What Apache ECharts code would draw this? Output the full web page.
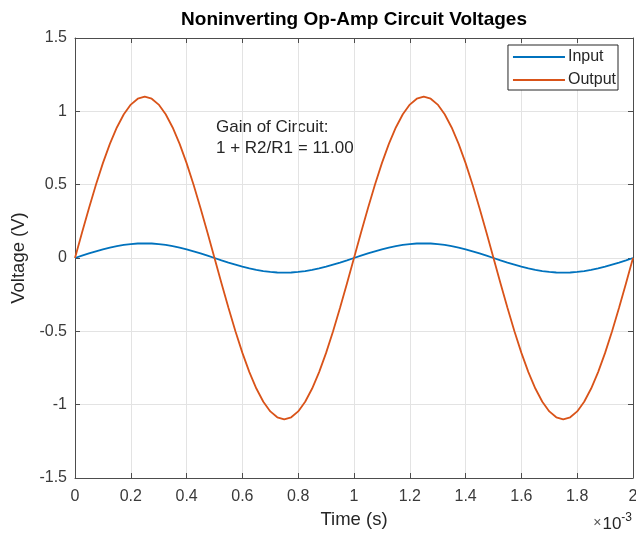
<!DOCTYPE html>
<html>
<head>
<meta charset="utf-8">
<script src="https://cdn.jsdelivr.net/npm/echarts@6/dist/echarts.min.js"></script>
<style>html,body{margin:0;padding:0;background:#fff}#c{width:636px;height:534px}</style>
</head>
<body>
<div id="c"></div>
<script>
// time in ms (axis shows ×10^-3 s)
const timeMs = [0,0.025,0.05,0.075,0.1,0.125,0.15,0.175,0.2,0.225,0.25,0.275,0.3,0.325,0.35,0.375,0.4,0.425,0.45,0.475,0.5,0.525,0.55,0.575,0.6,0.625,0.65,0.675,0.7,0.725,0.75,0.775,0.8,0.825,0.85,0.875,0.9,0.925,0.95,0.975,1.0,1.025,1.05,1.075,1.1,1.125,1.15,1.175,1.2,1.225,1.25,1.275,1.3,1.325,1.35,1.375,1.4,1.425,1.45,1.475,1.5,1.525,1.55,1.575,1.6,1.625,1.65,1.675,1.7,1.725,1.75,1.775,1.8,1.825,1.85,1.875,1.9,1.925,1.95,1.975,2.0];
const inputV = [0,0.016,0.031,0.045,0.059,0.071,0.081,0.089,0.095,0.099,0.100,0.099,0.095,0.089,0.081,0.071,0.059,0.045,0.031,0.016,0,-0.016,-0.031,-0.045,-0.059,-0.071,-0.081,-0.089,-0.095,-0.099,-0.100,-0.099,-0.095,-0.089,-0.081,-0.071,-0.059,-0.045,-0.031,-0.016,0,0.016,0.031,0.045,0.059,0.071,0.081,0.089,0.095,0.099,0.100,0.099,0.095,0.089,0.081,0.071,0.059,0.045,0.031,0.016,0,-0.016,-0.031,-0.045,-0.059,-0.071,-0.081,-0.089,-0.095,-0.099,-0.100,-0.099,-0.095,-0.089,-0.081,-0.071,-0.059,-0.045,-0.031,-0.016,0];
const outputV = [0,0.172,0.340,0.499,0.647,0.778,0.890,0.980,1.046,1.086,1.100,1.086,1.046,0.980,0.890,0.778,0.647,0.499,0.340,0.172,0,-0.172,-0.340,-0.499,-0.647,-0.778,-0.890,-0.980,-1.046,-1.086,-1.100,-1.086,-1.046,-0.980,-0.890,-0.778,-0.647,-0.499,-0.340,-0.172,0,0.172,0.340,0.499,0.647,0.778,0.890,0.980,1.046,1.086,1.100,1.086,1.046,0.980,0.890,0.778,0.647,0.499,0.340,0.172,0,-0.172,-0.340,-0.499,-0.647,-0.778,-0.890,-0.980,-1.046,-1.086,-1.100,-1.086,-1.046,-0.980,-0.890,-0.778,-0.647,-0.499,-0.340,-0.172,0];
const seriesNames = ['Input', 'Output'];
const titleText = 'Noninverting Op-Amp Circuit Voltages';
const xName = 'Time (s)';
const yName = 'Voltage (V)';
const noteLines = ['Gain of Circuit:', '1 + R2/R1 = 11.00'];

const FONT = '"Liberation Sans", Arial, Helvetica, sans-serif';
const AX = '#4d4d4d';
const TXT = '#262626';
const TICK = '#3a3a3a';
const GRID = '#e3e3e3';

function pair(a, b) { return a.map((v, i) => [v, b[i]]); }

const chart = echarts.init(document.getElementById('c'), null, {renderer: 'canvas'});
const xCommon = {
  type: 'value', min: 0, max: 2, interval: 0.2,
  axisLine: {show: true, onZero: false, lineStyle: {color: AX, width: 1}},
  axisTick: {show: true, inside: true, length: 5, lineStyle: {color: AX}},
};
const yCommon = {
  type: 'value', min: -1.5, max: 1.5, interval: 0.5,
  axisLine: {show: true, onZero: false, lineStyle: {color: AX, width: 1}},
  axisTick: {show: true, inside: true, length: 5, lineStyle: {color: AX}},
};
chart.setOption({
  animation: false,
  backgroundColor: '#fff',
  grid: {left: 75, right: 3, top: 38, bottom: 56, containLabel: false, outerBoundsMode: 'none'},
  xAxis: [
    Object.assign({}, xCommon, {
      position: 'bottom',
      name: xName, nameLocation: 'middle', nameGap: 32,
      nameTextStyle: {fontFamily: FONT, fontSize: 18.5, color: TXT},
      axisLabel: {fontFamily: FONT, fontSize: 16, color: TICK, margin: 11,
        formatter: v => String(Math.round(v * 10) / 10)},
      splitLine: {show: true, lineStyle: {color: GRID, width: 1}}
    }),
    Object.assign({}, xCommon, {
      position: 'top', axisLabel: {show: false}, splitLine: {show: false}
    })
  ],
  yAxis: [
    Object.assign({}, yCommon, {
      position: 'left',
      name: yName, nameLocation: 'middle', nameGap: 42, nameRotate: 90,
      nameTextStyle: {fontFamily: FONT, fontSize: 18.5, color: TXT},
      axisLabel: {fontFamily: FONT, fontSize: 16, color: TICK, margin: 8},
      splitLine: {show: true, lineStyle: {color: GRID, width: 1}}
    }),
    Object.assign({}, yCommon, {
      position: 'right', axisLabel: {show: false}, splitLine: {show: false}
    })
  ],
  legend: {
    orient: 'vertical', right: 18, top: 45,
    data: seriesNames,
    icon: 'rect', itemWidth: 52, itemHeight: 2, itemGap: 7,
    padding: [4, 2, 2, 5],
    borderColor: TXT, borderWidth: 1, borderRadius: 0,
    backgroundColor: '#fff',
    textStyle: {fontFamily: FONT, fontSize: 16, lineHeight: 16, color: TXT, padding: [0, 0, 0, -2]}
  },
  series: [
    {name: seriesNames[0], type: 'line', xAxisIndex: 0, yAxisIndex: 0,
     data: pair(timeMs, inputV), showSymbol: false, symbol: 'none',
     lineStyle: {color: '#0072BD', width: 1.8}, itemStyle: {color: '#0072BD'}},
    {name: seriesNames[1], type: 'line', xAxisIndex: 0, yAxisIndex: 0,
     data: pair(timeMs, outputV), showSymbol: false, symbol: 'none',
     lineStyle: {color: '#D95319', width: 1.8}, itemStyle: {color: '#D95319'}}
  ],
  graphic: [
    {type: 'text', x: 354, y: 20, style: {text: titleText, fontFamily: FONT,
      fontSize: 19, fontWeight: 'bold', fill: '#000', align: 'center', verticalAlign: 'middle',
      textAlign: 'center', textVerticalAlign: 'middle'}},
    {type: 'text', x: 216, y: 116.5, style: {text: noteLines.join('\n'), fontFamily: FONT,
      fontSize: 17, lineHeight: 21, fill: TXT}},
    {type: 'text', right: 4, top: 512, style: {
      text: '{a|×}{b|10}{c|-3}',
      rich: {
        a: {fontFamily: FONT, fontSize: 14, fill: '#555', padding: [4, 1, 0, 0]},
        b: {fontFamily: FONT, fontSize: 17, fill: TXT, padding: [5, 0, 0, 0]},
        c: {fontFamily: FONT, fontSize: 12, fill: TXT, padding: [0, 0, 7, 0]}
      }}}
  ]
});
</script>
</body>
</html>
